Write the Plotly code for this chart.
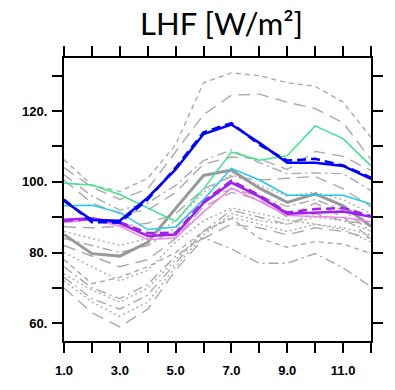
import plotly.graph_objects as go

months = [1, 2, 3, 4, 5, 6, 7, 8, 9, 10, 11, 12]

# ensemble members (thin gray)
ens_01 = [106.3, 99.0, 97.3, 101.0, 110.5, 128.0, 130.8, 130.0, 128.0, 127.0, 122.5, 112.6]
ens_02 = [104.0, 98.5, 95.0, 98.0, 108.5, 119.0, 124.5, 124.8, 122.5, 120.7, 116.7, 106.3]
ens_03 = [102.0, 96.0, 92.0, 94.0, 99.0, 106.0, 109.0, 105.4, 102.3, 102.5, 102.3, 97.5]
ens_04 = [100.5, 94.0, 91.0, 92.0, 97.0, 105.0, 107.0, 106.5, 103.5, 108.6, 107.2, 103.2]
ens_05 = [87.3, 87.0, 87.4, 88.3, 91.0, 98.0, 101.5, 100.5, 101.0, 101.5, 98.0, 93.0]
ens_06 = [86.0, 84.0, 82.0, 84.0, 89.0, 97.0, 102.0, 99.0, 96.0, 97.0, 95.0, 91.0]
ens_07 = [84.0, 82.0, 80.0, 82.0, 87.0, 95.0, 98.0, 96.0, 93.0, 95.0, 92.0, 86.0]
ens_08 = [82.0, 79.0, 76.0, 78.0, 84.0, 93.0, 97.0, 95.0, 90.0, 94.0, 90.0, 84.0]
ens_09 = [80.0, 76.0, 72.0, 75.0, 83.0, 89.0, 92.6, 91.0, 89.2, 88.0, 86.5, 83.0]
ens_10 = [78.0, 71.2, 73.0, 76.0, 80.0, 86.0, 89.6, 84.0, 81.5, 83.1, 82.4, 79.7]
ens_11 = [76.0, 70.0, 67.0, 71.0, 79.0, 84.2, 81.0, 77.0, 77.0, 79.7, 75.7, 70.3]
ens_12 = [74.0, 69.4, 66.0, 70.0, 78.0, 86.0, 90.0, 88.0, 86.0, 88.0, 87.0, 85.0]
ens_13 = [72.0, 66.0, 62.0, 66.0, 76.0, 85.0, 91.0, 89.0, 88.0, 90.0, 89.0, 86.0]
ens_14 = [70.0, 63.0, 59.0, 64.0, 75.0, 84.0, 88.0, 87.0, 85.0, 87.0, 86.0, 84.0]
ens_15 = [73.0, 67.0, 64.0, 68.0, 77.0, 86.0, 92.0, 90.0, 88.0, 91.0, 89.0, 88.0]

# highlighted series
gray_thick = [85.1, 79.7, 79.0, 82.9, 92.5, 101.8, 103.3, 98.2, 94.2, 96.6, 93.2, 87.4]
pink = [88.5, 89.3, 87.5, 83.6, 84.2, 91.5, 98.2, 94.5, 90.5, 90.2, 89.9, 88.7]
purple = [89.3, 89.7, 88.3, 84.7, 85.1, 94.0, 99.8, 95.8, 91.0, 91.2, 91.6, 90.1]
purple_dash = [89.0, 89.5, 88.6, 85.5, 85.6, 94.5, 100.3, 96.2, 91.3, 92.3, 92.6, 90.3]
cyan = [93.2, 93.4, 91.3, 86.5, 87.2, 95.0, 103.8, 100.5, 96.2, 96.2, 96.2, 93.7]
green = [99.6, 99.1, 96.4, 92.5, 88.8, 98.0, 108.4, 106.1, 107.4, 115.8, 112.2, 104.5]
blue = [94.6, 89.2, 89.0, 95.5, 103.5, 113.5, 116.2, 111.0, 105.4, 105.4, 104.5, 100.8]
blue_dash = [95.0, 88.6, 88.5, 95.0, 104.0, 114.0, 116.6, 110.5, 106.0, 106.5, 104.6, 101.2]

y_tickvals = [60, 70, 80, 90, 100, 110, 120, 130]
y_ticktext = ["60.", "", "80.", "", "100.", "", "120.", ""]
x_tickvals = months
x_ticktext = ["1.0", "", "3.0", "", "5.0", "", "7.0", "", "9.0", "", "11.0", ""]

SHORT = "5px,4px"
LONG = "12px,7px"
DASHDOT = "10px,4px,2px,4px"
DOT = "2px,3px"

ens = [
    (ens_01, SHORT), (ens_02, LONG), (ens_03, DASHDOT), (ens_04, LONG),
    (ens_05, LONG), (ens_06, DOT), (ens_07, DASHDOT), (ens_08, LONG),
    (ens_09, DOT), (ens_10, SHORT), (ens_11, DASHDOT), (ens_12, DOT),
    (ens_13, DOT), (ens_14, LONG), (ens_15, DASHDOT),
]

fig = go.Figure()
for vals, dash in ens:
    fig.add_trace(go.Scatter(x=months, y=vals, mode="lines",
                             line=dict(color="#aaaaaa", width=1.4, dash=dash),
                             showlegend=False, hoverinfo="skip"))

fig.add_trace(go.Scatter(x=months, y=gray_thick, mode="lines",
                         line=dict(color="#999999", width=3), showlegend=False))
fig.add_trace(go.Scatter(x=months, y=pink, mode="lines",
                         line=dict(color="#ee82ee", width=1.5), showlegend=False))
fig.add_trace(go.Scatter(x=months, y=purple, mode="lines",
                         line=dict(color="#a020f0", width=2.5), showlegend=False))
fig.add_trace(go.Scatter(x=months, y=purple_dash, mode="lines",
                         line=dict(color="#a020f0", width=2.5, dash="9px,5px"), showlegend=False))
fig.add_trace(go.Scatter(x=months, y=cyan, mode="lines",
                         line=dict(color="#22c8ee", width=1.5), showlegend=False))
fig.add_trace(go.Scatter(x=months, y=green, mode="lines",
                         line=dict(color="#3ce68c", width=1.5), showlegend=False))
fig.add_trace(go.Scatter(x=months, y=blue, mode="lines",
                         line=dict(color="#0000ff", width=2.5), showlegend=False))
fig.add_trace(go.Scatter(x=months, y=blue_dash, mode="lines",
                         line=dict(color="#0000ff", width=2.5, dash="9px,5px"), showlegend=False))

axis_common = dict(
    showline=True, linecolor="black", linewidth=2, mirror="ticks",
    ticks="outside", ticklen=10, tickwidth=2, tickcolor="black",
    showgrid=False, zeroline=False,
    tickfont=dict(family="Liberation Sans, Arial, sans-serif", size=13, color="black",
                  weight="bold"),
)

fig.update_layout(
    width=395, height=390,
    margin=dict(l=64, r=18, t=58, b=38),
    paper_bgcolor="white", plot_bgcolor="white",
    title=dict(text="LHF [W/m²]", x=0.561, xref="container", xanchor="center",
               y=0.938, yref="container", yanchor="middle",
               font=dict(family="Lato, Open Sans, sans-serif", size=31, color="black")),
    xaxis=dict(range=[1, 12], tickvals=x_tickvals, ticktext=x_ticktext,
               ticklabelstandoff=6, **axis_common),
    yaxis=dict(range=[55, 135], tickvals=y_tickvals, ticktext=y_ticktext,
               ticklabelstandoff=2, **axis_common),
)

# remove the browser's default 8px body margin so the figure fills the window
fig.write_html("out.html", config={"displayModeBar": False},
               post_script="document.body.style.margin='0';")
